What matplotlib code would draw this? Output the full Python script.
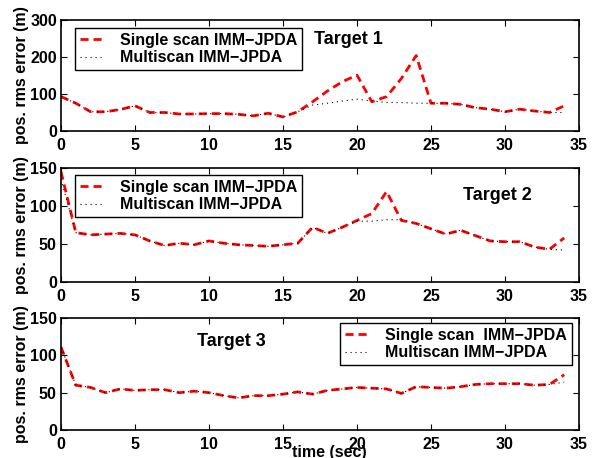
import matplotlib
matplotlib.use("Agg")
import matplotlib.pyplot as plt

plt.rcParams['font.family'] = ['Liberation Sans', 'DejaVu Sans']
plt.rcParams['font.weight'] = 'bold'

t = list(range(35))

# Target 1
single_1 = [93, 75, 52, 52, 58, 68, 50, 50, 46, 46, 47, 47, 45, 41, 48, 38, 52, 79,
            108, 133, 151, 79, 93, 142, 204, 75, 75, 72, 63, 59, 52, 59, 54, 50, 68]
multi_1 = [93, 75, 52, 52, 58, 68, 50, 50, 46, 46, 47, 47, 45, 41, 48, 38, 52, 70,
           75, 81, 86, 81, 77, 77, 75, 75, 75, 72, 63, 59, 52, 59, 54, 50, 50]

# Target 2
single_2 = [145, 65, 62, 63, 64, 62, 54, 48, 51, 49, 54, 51, 49, 48, 47, 49, 51, 72,
            64, 72, 81, 90, 119, 81, 77, 70, 63, 68, 61, 54, 53, 53, 46, 43, 58]
multi_2 = [135, 65, 62, 63, 64, 62, 54, 48, 51, 49, 54, 51, 49, 48, 47, 49, 51, 72,
           64, 72, 80, 80, 82, 82, 77, 70, 63, 68, 61, 54, 53, 53, 46, 43, 42]

# Target 3
single_3 = [111, 60, 57, 50, 55, 53, 54, 54, 50, 52, 50, 46, 43, 46, 46, 48, 51, 48,
            53, 55, 57, 56, 55, 49, 58, 57, 56, 58, 61, 62, 62, 62, 60, 61, 74]
multi_3 = [111, 60, 57, 50, 55, 53, 54, 54, 50, 52, 50, 46, 43, 46, 46, 48, 51, 48,
           53, 55, 57, 56, 55, 49, 58, 57, 56, 58, 61, 62, 62, 62, 60, 61, 64]

panels = [
    (single_1, multi_1, [0, 100, 200, 300], 300, "Target 1", "Single scan IMM\u2212JPDA"),
    (single_2, multi_2, [0, 50, 100, 150], 150, "Target 2", "Single scan IMM\u2212JPDA"),
    (single_3, multi_3, [0, 50, 100, 150], 150, "Target 3", "Single scan  IMM\u2212JPDA"),
]

fig = plt.figure(figsize=(5.93, 4.58), dpi=100)
W, H = 593.0, 458.0
boxes = [(131, 111), (282, 114), (430, 112)]  # bottom px, height px
leg_anchor = [((0.027, 0.928), 'upper left'),
              ((0.027, 0.939), 'upper left'),
              ((0.986, 0.955), 'upper right')]
txt_pos = [(0.488, 0.82), (0.776, 0.763), (0.2625, 0.786)]

for i, (s, m, yt, ymax, name, lab) in enumerate(panels):
    bot, hh = boxes[i]
    ax = fig.add_axes([61 / W, 1 - bot / H, 518 / W, hh / H])
    ax.plot(t, s, color='red', lw=2, dashes=(2.9, 1.8), label=lab)
    ax.plot(t, m, color='black', lw=0.8, dashes=(1, 3.5), label="Multiscan IMM\u2212JPDA")
    ax.set_xlim(0, 35)
    ax.set_ylim(0, ymax)
    ax.set_xticks(range(0, 36, 5))
    ax.set_yticks(yt)
    ax.tick_params(direction='in', length=4, width=0.8, top=True, right=True,
                   labelsize=11.5)
    ax.tick_params(axis='x', pad=5)
    ax.tick_params(axis='y', pad=3)
    for sp in ax.spines.values():
        sp.set_linewidth(1.2)
    anchor, loc = leg_anchor[i]
    leg = ax.legend(loc=loc, bbox_to_anchor=anchor, borderaxespad=0,
                    fontsize=11.5, labelspacing=0.15, borderpad=0.3,
                    handlelength=1.5, handletextpad=1.0, fancybox=False,
                    framealpha=1, edgecolor='black')
    leg.get_frame().set_linewidth(1.0)
    ax.text(txt_pos[i][0], txt_pos[i][1], name, transform=ax.transAxes,
            fontsize=13, fontweight='bold', ha='left', va='center')
    cy = 1 - (bot - hh / 2) / H
    fig.text(22 / W, cy, "pos. rms error (m)", rotation=90, ha='center',
             va='center', fontsize=11.5, fontweight='bold')

fig.text(329 / W, 1 - 452 / H, "time (sec)", ha='center', va='center',
         fontsize=11.5, fontweight='bold')

fig.savefig("out.png", dpi=100)
